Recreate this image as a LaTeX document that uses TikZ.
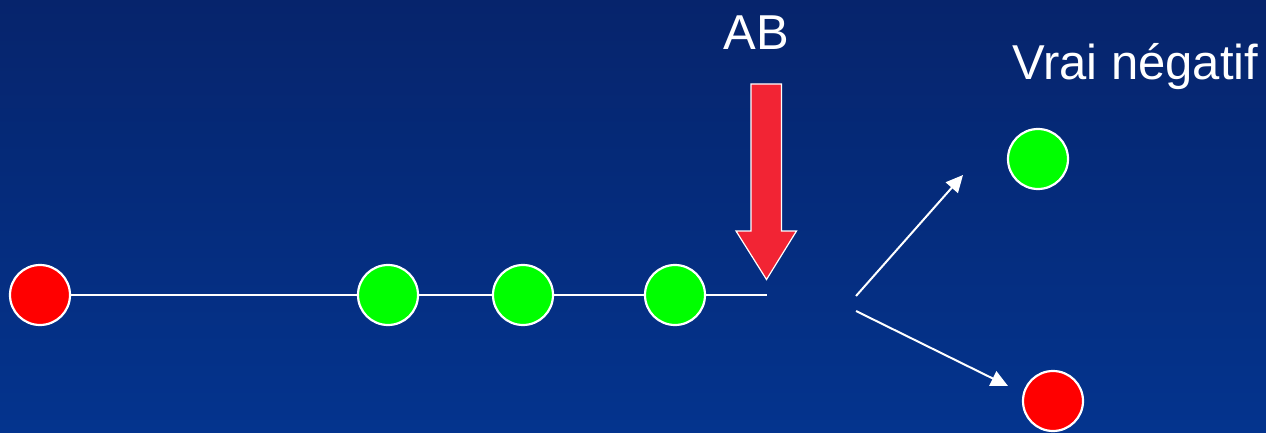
\documentclass[tikz,border=0pt]{standalone}
\usepackage{fontspec}
\setmainfont{Liberation Sans}
\usetikzlibrary{arrows.meta}
\definecolor{bgtop}{RGB}{6,36,108}
\definecolor{bgbot}{RGB}{4,52,142}
\definecolor{dotred}{RGB}{255,0,0}
\definecolor{dotgreen}{RGB}{0,255,0}
\definecolor{blockred}{RGB}{242,36,52}
\tikzset{
  dot/.style={circle, draw=white, line width=2.2pt, minimum size=60pt, inner sep=0pt},
  reddot/.style={dot, fill=dotred},
  greendot/.style={dot, fill=dotgreen},
  wline/.style={draw=white, line width=2pt},
  warrow/.style={draw=white, line width=2pt, -{Triangle[length=17pt,width=16pt]}},
  bigtext/.style={text=white, font=\fontsize{49}{58}\selectfont, inner sep=0pt}
}
\begin{document}
\begin{tikzpicture}[x=1pt,y=-1pt]
\useasboundingbox (0,0) rectangle (1266,433);
\fill[top color=bgtop, bottom color=bgbot] (0,0) rectangle (1266,433);
% line
\coordinate (lend) at (767,295);
\node[reddot] (r1) at (40,295) {};
\node[greendot] (g1) at (388,295) {};
\node[greendot] (g2) at (523,295) {};
\node[greendot] (g3) at (675,295) {};
\draw[wline] (r1) -- (g1);
\draw[wline] (g1) -- (g2);
\draw[wline] (g2) -- (g3);
\draw[wline] (g3) -- (lend);
% block arrow
\filldraw[fill=blockred, draw=white, line width=1.2pt]
  (751,84) -- (781.5,84) -- (781.5,231) -- (796.5,231) -- (766.5,279.5)
  -- (736,231) -- (751,231) -- cycle;
\node[bigtext, anchor=base] (ab) at (756,50) {AB};
% branching arrows
\coordinate (s1) at (856,296);
\coordinate (e1) at (963,175);
\coordinate (s2) at (856,311);
\coordinate (e2) at (1008,386);
\draw[warrow] (s1) -- (e1);
\draw[warrow] (s2) -- (e2);
\node[greendot] (g4) at (1038,159) {};
\node[reddot] (r2) at (1053,401) {};
\node[bigtext, anchor=base west] (vn) at (1012,80) {Vrai négatif};
\end{tikzpicture}
\end{document}
